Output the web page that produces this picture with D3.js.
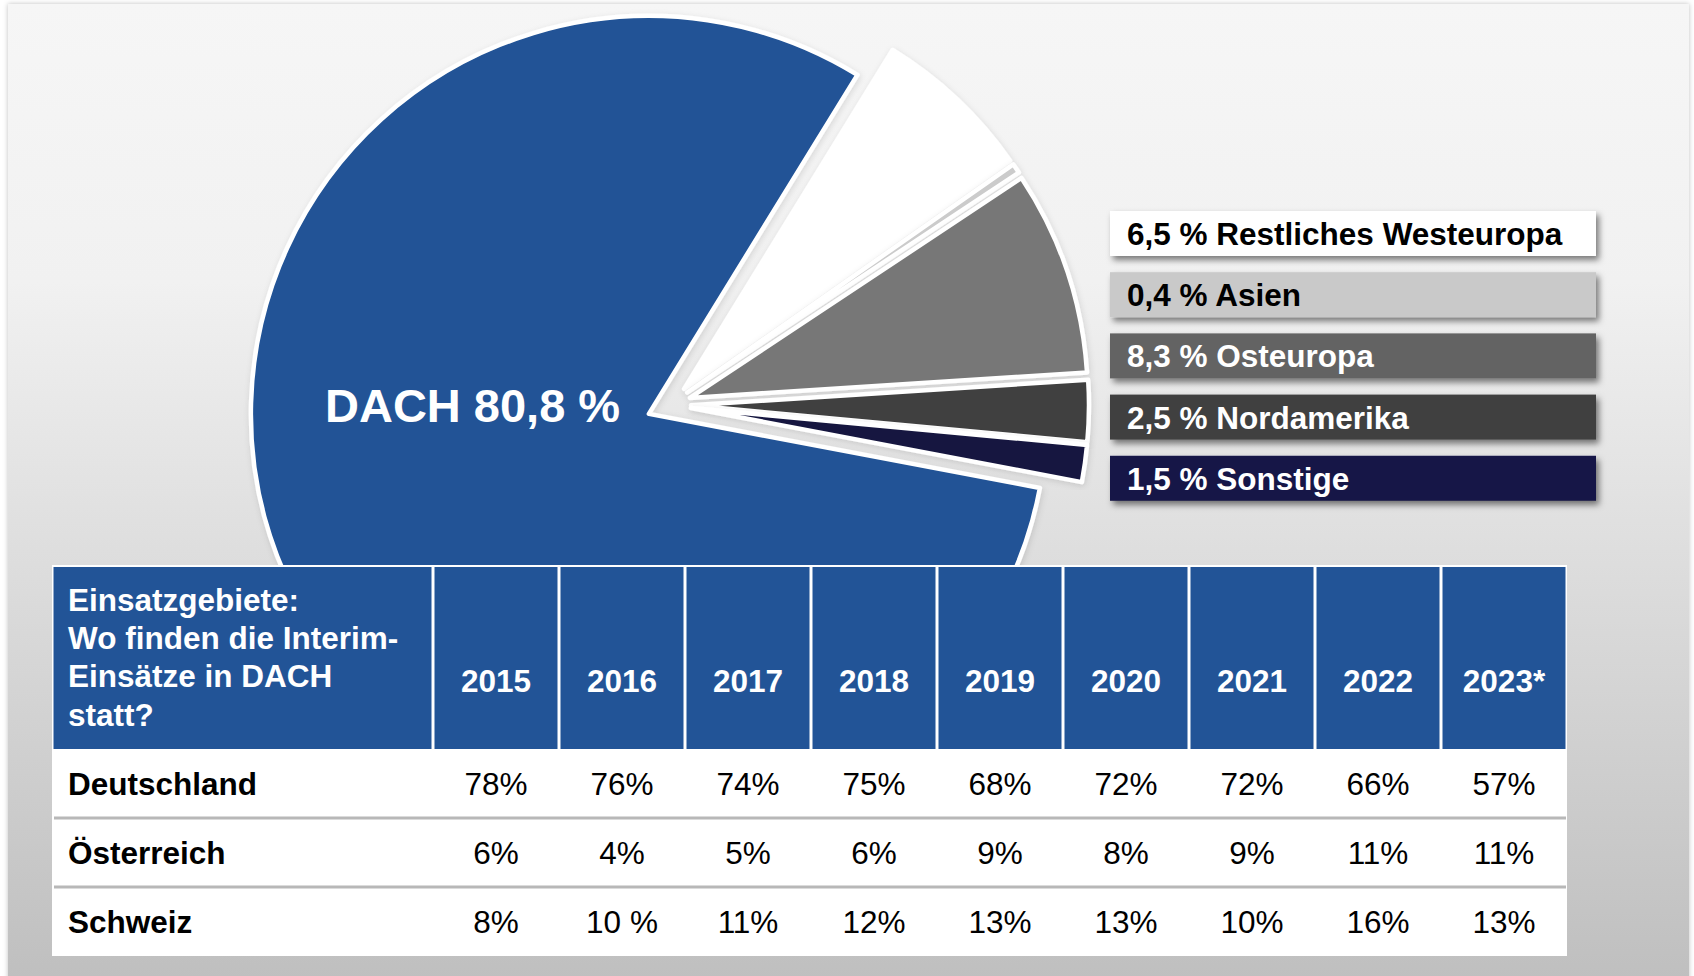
<!DOCTYPE html>
<html>
<head>
<meta charset="utf-8">
<script src="https://cdn.jsdelivr.net/npm/d3@7"></script>
<style>
  body { margin: 0; background: #fff; }
  text { font-family: "Liberation Sans", Arial, sans-serif; }
</style>
</head>
<body>
<div id="chart"></div>
<script>

var width = 1694, height = 976;

// pie data (clockwise, starting after the DACH slice)
var regions = ["Restliches Westeuropa", "Asien", "Osteuropa", "Nordamerika", "Sonstige", "DACH"];
var shares = [6.5, 0.4, 8.3, 2.5, 1.5, 80.8];
var shareLabels = ["6,5 %", "0,4 %", "8,3 %", "2,5 %", "1,5 %", "80,8 %"];
var sliceColors = ["#ffffff", "#cbcbcb", "#777777", "#404040", "#15163f", "#215396"];
var boxColors = ["#ffffff", "#c9c9c9", "#636363", "#404040", "#161646"];
var boxText = ["#000", "#000", "#fff", "#fff", "#fff"];

// table data
var years = ["2015", "2016", "2017", "2018", "2019", "2020", "2021", "2022", "2023*"];
var countries = ["Deutschland", "Österreich", "Schweiz"];
var deutschland = ["78%", "76%", "74%", "75%", "68%", "72%", "72%", "66%", "57%"];
var oesterreich = ["6%", "4%", "5%", "6%", "9%", "8%", "9%", "11%", "11%"];
var schweiz = ["8%", "10 %", "11%", "12%", "13%", "13%", "10%", "16%", "13%"];
var headerLines = ["Einsatzgebiete:", "Wo finden die Interim-", "Einsätze in DACH", "statt?"];

var svg = d3.select("#chart").append("svg")
  .attr("width", width)
  .attr("height", height);

var defs = svg.append("defs");

var grad = defs.append("linearGradient")
  .attr("id", "bg").attr("x1", 0).attr("y1", 0).attr("x2", 0).attr("y2", 1);
grad.append("stop").attr("offset", "0").attr("stop-color", "#f6f6f6");
grad.append("stop").attr("offset", "0.28").attr("stop-color", "#f1f1f1");
grad.append("stop").attr("offset", "0.58").attr("stop-color", "#dcdcdc");
grad.append("stop").attr("offset", "1").attr("stop-color", "#bebebe");

var panelShadow = defs.append("filter").attr("id", "panelShadow")
  .attr("x", "-2%").attr("y", "-2%").attr("width", "104%").attr("height", "104%");
panelShadow.append("feDropShadow").attr("dx", 0).attr("dy", 0).attr("stdDeviation", 2.5)
  .attr("flood-color", "#000").attr("flood-opacity", 0.25);

var boxShadow = defs.append("filter").attr("id", "boxShadow")
  .attr("x", "-5%").attr("y", "-20%").attr("width", "115%").attr("height", "160%");
boxShadow.append("feDropShadow").attr("dx", 3).attr("dy", 4).attr("stdDeviation", 3)
  .attr("flood-color", "#000").attr("flood-opacity", 0.5);

var sliceShadow = defs.append("filter").attr("id", "sliceShadow")
  .attr("x", "-10%").attr("y", "-10%").attr("width", "120%").attr("height", "120%");
sliceShadow.append("feDropShadow").attr("dx", 1).attr("dy", 2).attr("stdDeviation", 3)
  .attr("flood-color", "#000").attr("flood-opacity", 0.12);

// background panel
svg.append("rect")
  .attr("x", 8).attr("y", 4)
  .attr("width", 1681).attr("height", 990)
  .attr("fill", "url(#bg)")
  .attr("filter", "url(#panelShadow)");

// ---- pie ----
var cx = 669, cy = 405, radius = 398, explode = 22;
var startDeg = 31.6;

var pie = d3.pie()
  .sort(null)
  .value(d => d)
  .startAngle(startDeg * Math.PI / 180)
  .endAngle(startDeg * Math.PI / 180 + 2 * Math.PI);

var arc = d3.arc().innerRadius(0).outerRadius(radius);

var pieG = svg.append("g")
  .attr("transform", "translate(" + cx + "," + cy + ")");

pieG.selectAll("path")
  .data(pie(shares))
  .enter()
  .append("path")
  .attr("d", arc)
  .attr("transform", function(d) {
    var mid = (d.startAngle + d.endAngle) / 2;
    return "translate(" + (explode * Math.sin(mid)) + "," + (-explode * Math.cos(mid)) + ")";
  })
  .attr("fill", (d, i) => sliceColors[i])
  .attr("stroke", "#fff")
  .attr("stroke-width", 4.5)
  .attr("stroke-linejoin", "round")
  .attr("filter", "url(#sliceShadow)");

svg.append("text")
  .attr("x", 325)
  .attr("y", 422)
  .attr("fill", "#fff")
  .attr("font-size", 47)
  .attr("font-weight", "bold")
  .text(regions[5] + " " + shareLabels[5]);

// ---- legend boxes ----
var ly = d3.scaleBand()
  .domain(regions.slice(0, 5))
  .range([211, 211 + 5 * 61.2]);

var legend = svg.append("g").selectAll("g")
  .data(regions.slice(0, 5))
  .enter()
  .append("g")
  .attr("transform", d => "translate(1110," + ly(d) + ")");

legend.append("rect")
  .attr("width", 486)
  .attr("height", 45)
  .attr("fill", (d, i) => boxColors[i])
  .attr("filter", "url(#boxShadow)");

legend.append("text")
  .attr("x", 17)
  .attr("y", 34)
  .attr("font-size", 31.5)
  .attr("font-weight", "bold")
  .attr("fill", (d, i) => boxText[i])
  .text((d, i) => shareLabels[i] + " " + d);

// ---- table ----
var tx0 = 52, firstW = 381, tableTop = 565, headH = 184;
var colX = d3.scaleBand().domain(years).range([tx0 + firstW, 1567]);
var rowY = d3.scaleBand().domain(countries).range([tableTop + headH, 956]);
var rows = [deutschland, oesterreich, schweiz];

var table = svg.append("g");

// white table body
table.append("rect")
  .attr("x", tx0).attr("y", tableTop)
  .attr("width", 1567 - tx0).attr("height", 956 - tableTop)
  .attr("fill", "#fff");

// header cells
table.append("rect")
  .attr("x", tx0 + 1.5).attr("y", tableTop + 2)
  .attr("width", firstW - 3).attr("height", headH - 2)
  .attr("fill", "#225497");

table.selectAll(".hcell")
  .data(years)
  .enter()
  .append("rect")
  .attr("class", "hcell")
  .attr("x", d => colX(d) + 1.5)
  .attr("y", tableTop + 2)
  .attr("width", colX.bandwidth() - 3)
  .attr("height", headH - 2)
  .attr("fill", "#225497");

table.append("text")
  .attr("fill", "#fff")
  .attr("font-size", 31.5)
  .attr("font-weight", "bold")
  .selectAll("tspan")
  .data(headerLines)
  .enter()
  .append("tspan")
  .attr("x", 68)
  .attr("y", (d, i) => 611 + i * 38.2)
  .text(d => d);

table.selectAll(".year")
  .data(years)
  .enter()
  .append("text")
  .attr("class", "year")
  .attr("x", d => colX(d) + colX.bandwidth() / 2)
  .attr("y", 692)
  .attr("text-anchor", "middle")
  .attr("fill", "#fff")
  .attr("font-size", 31.5)
  .attr("font-weight", "bold")
  .text(d => d);

// row separators
table.selectAll(".sep")
  .data(countries.slice(1))
  .enter()
  .append("line")
  .attr("class", "sep")
  .attr("x1", tx0 + 2).attr("x2", 1566)
  .attr("y1", d => rowY(d)).attr("y2", d => rowY(d))
  .attr("stroke", "#b8b8b8")
  .attr("stroke-width", 3);

table.selectAll(".country")
  .data(countries)
  .enter()
  .append("text")
  .attr("class", "country")
  .attr("x", 68)
  .attr("y", d => rowY(d) + rowY.bandwidth() / 2 + 11.5)
  .attr("font-size", 31.5)
  .attr("font-weight", "bold")
  .attr("fill", "#000")
  .text(d => d);

countries.forEach(function(c, r) {
  table.selectAll(".v" + r)
    .data(rows[r])
    .enter()
    .append("text")
    .attr("class", "v" + r)
    .attr("x", (d, i) => colX(years[i]) + colX.bandwidth() / 2)
    .attr("y", rowY(c) + rowY.bandwidth() / 2 + 11.5)
    .attr("text-anchor", "middle")
    .attr("font-size", 31.5)
    .attr("fill", "#000")
    .text(d => d);
});

</script>
</body>
</html>
